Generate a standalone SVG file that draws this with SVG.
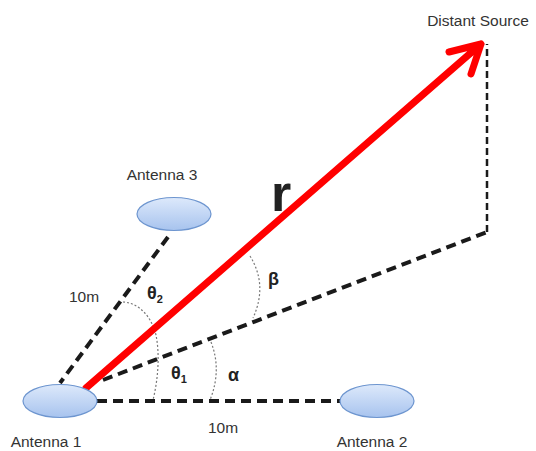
<svg xmlns="http://www.w3.org/2000/svg" width="536" height="451" viewBox="0 0 536 451">
<defs>
<linearGradient id="ag" x1="0" y1="0" x2="0" y2="1">
<stop offset="0" stop-color="#dde9fb"/>
<stop offset="1" stop-color="#a7c3ee"/>
</linearGradient>
</defs>
<style>
.ant{fill:url(#ag);stroke:#6d95cf;stroke-width:1.2}
.lbl{font-family:"Liberation Sans",Arial,sans-serif;font-size:15.5px;fill:#333}
.sym{font-family:"Liberation Sans",Arial,sans-serif;font-weight:bold;fill:#222}
.dash{fill:none;stroke:#1a1a1a;stroke-width:4;stroke-dasharray:10 6}
.thin{fill:none;stroke:#1a1a1a;stroke-width:2.5;stroke-dasharray:7 4}
.arc{fill:none;stroke:#777;stroke-width:1.2;stroke-dasharray:2 2}
.ray{fill:none;stroke:#ff0000;stroke-width:7;stroke-linecap:round;stroke-linejoin:round}
</style>
<rect width="536" height="451" fill="#ffffff"/>
<g id="connectors">
<line class="dash" x1="97" y1="401" x2="340" y2="401"/>
<line class="dash" x1="168" y1="237" x2="60" y2="383"/>
<line class="dash" x1="103" y1="380" x2="487" y2="232"/>
<line class="thin" x1="487" y1="232" x2="487" y2="44"/>
<path class="arc" d="M123,302 C140,303 152,318 156,335 C160,355 158,380 153,400"/>
<path class="arc" d="M211,342 Q222,370 210,400"/>
<path class="arc" d="M250,256 Q268,285 253,318"/>
<path class="ray" d="M86,388 L481,44 M449,52 L481,44 L471,74"/>
</g>
<g id="antenna1">
<ellipse class="ant" cx="60" cy="401" rx="37" ry="16.5"/>
<text class="lbl" x="46" y="447" text-anchor="middle">Antenna 1</text>
</g>
<g id="antenna2">
<ellipse class="ant" cx="377" cy="401" rx="37" ry="16.5"/>
<text class="lbl" x="372" y="447" text-anchor="middle">Antenna 2</text>
</g>
<g id="antenna3">
<ellipse class="ant" cx="174" cy="214" rx="37" ry="16.5"/>
<text class="lbl" x="162" y="180" text-anchor="middle">Antenna 3</text>
</g>
<g id="source">
<text class="lbl" x="478" y="26" text-anchor="middle">Distant Source</text>
</g>
<g id="labels">
<text class="lbl" x="84" y="302" text-anchor="middle">10m</text>
<text class="lbl" x="223" y="433" text-anchor="middle">10m</text>
<text class="sym" x="281" y="211" font-size="52" text-anchor="middle">r</text>
<text class="sym" x="147" y="299" font-size="18">θ<tspan font-size="11" dy="4">2</tspan></text>
<text class="sym" x="171" y="379" font-size="18">θ<tspan font-size="11" dy="4">1</tspan></text>
<text class="sym" x="228" y="381" font-size="18">α</text>
<text class="sym" x="268" y="285" font-size="18">β</text>
</g>
</svg>
